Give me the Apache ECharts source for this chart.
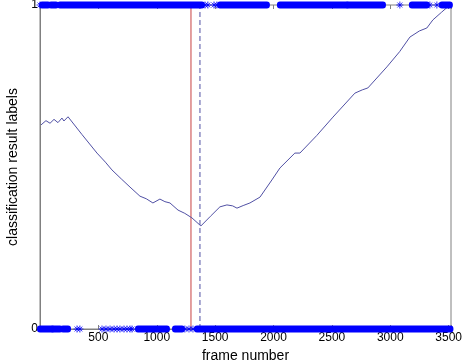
<!DOCTYPE html>
<html>
<head>
<meta charset="utf-8">
<script src="https://cdn.jsdelivr.net/npm/echarts@6/dist/echarts.min.js"></script>
<style>
html, body { margin: 0; padding: 0; background: #fff; }
#chart { width: 468px; height: 362px; }
</style>
</head>
<body>
<div id="chart"></div>
<script>
// frame number vs classifier output
const curveFrames = [9, 51, 86, 120, 154, 188, 205, 240, 360, 488, 560, 616, 700, 771, 856, 910, 967, 1027, 1070, 1113, 1182, 1240, 1301, 1378,
  1460, 1541, 1601, 1650, 1687, 1740, 1798, 1884, 1986, 2055, 2183, 2226, 2370, 2509, 2697, 2760, 2808, 2971, 3080, 3168, 3250, 3313, 3365, 3440, 3510];
const curveValues = [0.630, 0.643, 0.635, 0.647, 0.637, 0.651, 0.642, 0.655, 0.600, 0.543, 0.515, 0.491, 0.462, 0.438, 0.410, 0.402, 0.389, 0.401, 0.393, 0.389, 0.367, 0.357, 0.343, 0.318,
  0.348, 0.377, 0.383, 0.380, 0.373, 0.381, 0.389, 0.407, 0.460, 0.497, 0.543, 0.543, 0.597, 0.654, 0.728, 0.738, 0.744, 0.809, 0.856, 0.901, 0.920, 0.929, 0.954, 0.978, 1.0];

// label = 1 frames: dense runs and isolated frames
const topRuns = [[17, 68], [94, 137], [171, 214], [231, 1387], [1541, 1943], [2055, 2628], [2637, 2937], [3185, 3313], [3442, 3510]];
const topPoints = [0, 1413, 1438, 1490, 1515, 3082, 3339, 3399];
// label = 0 frames
const bottomRuns = [[0, 103], [111, 171], [197, 240], [839, 1087], [1156, 1216], [1344, 3515]];
const bottomPoints = [317, 342, 531, 565, 600, 634, 660, 685, 719, 745, 771, 788, 1241, 1276, 1310];

const redLineFrame = 1293;
const dashLineFrame = 1370;
const xTicks = [500, 1000, 1500, 2000, 2500, 3000, 3500];

const star = 'path://M0,-1L0,1M-1,0L1,0M-0.7,-0.7L0.7,0.7M-0.7,0.7L0.7,-0.7';
const blue = '#0000ff';

function runData(runs, y) {
  return runs.map(r => [r[0], r[1], y]);
}

const chart = echarts.init(document.getElementById('chart'));
chart.setOption({
  animation: false,
  grid: { left: 40, right: 17, top: 5, bottom: 33, outerBoundsMode: 'none', show: true, borderColor: '#808080', borderWidth: 1 },
  xAxis: [{
    type: 'value', min: 0, max: 3520, interval: 500,
    name: 'frame number', nameLocation: 'middle', nameGap: 12,
    nameTextStyle: { fontFamily: 'Liberation Sans', fontSize: 14, color: '#000' },
    axisLine: { show: true, lineStyle: { color: '#808080' } },
    axisTick: { inside: true, length: 4, lineStyle: { color: '#808080' } },
    axisLabel: {
      fontFamily: 'Liberation Sans', fontSize: 12, color: '#000', margin: 3,
      formatter: v => xTicks.indexOf(v) >= 0 ? String(v) : ''
    },
    splitLine: { show: false }
  }, {
    type: 'value', min: 0, max: 3520, interval: 500, position: 'top',
    axisLine: { show: false },
    axisTick: { inside: true, length: 4, lineStyle: { color: '#808080' } },
    axisLabel: { show: false },
    splitLine: { show: false }
  }],
  yAxis: {
    type: 'value', min: 0, max: 1, interval: 1,
    name: 'classification result labels', nameLocation: 'middle', nameGap: 16,
    nameTextStyle: { fontFamily: 'Liberation Sans', fontSize: 14, color: '#000' },
    axisLine: { show: true, lineStyle: { color: '#808080' } },
    axisTick: { inside: true, length: 4, lineStyle: { color: '#808080' } },
    axisLabel: { fontFamily: 'Liberation Sans', fontSize: 12, color: '#000', margin: 2 },
    splitLine: { show: false }
  },
  series: [
    {
      type: 'line', data: curveFrames.map((f, i) => [f, curveValues[i]]),
      showSymbol: false, lineStyle: { color: '#5050a4', width: 1 }, z: 3
    },
    {
      type: 'line', data: [[redLineFrame, 0], [redLineFrame, 1]],
      showSymbol: false, lineStyle: { color: '#c84040', width: 1 }, z: 2
    },
    {
      type: 'line', data: [[dashLineFrame, 0], [dashLineFrame, 1]],
      showSymbol: false, lineStyle: { color: '#5050a4', width: 1, type: [5, 3] }, z: 2
    },
    {
      type: 'custom', data: runData(topRuns, 1).concat(runData(bottomRuns, 0)),
      clip: false, z: 4,
      renderItem: (params, api) => {
        const a = api.coord([api.value(0), api.value(2)]);
        const b = api.coord([api.value(1), api.value(2)]);
        return {
          type: 'rect',
          shape: { x: a[0] - 3, y: a[1] - 3.5, width: b[0] - a[0] + 6, height: 7, r: 3 },
          style: { fill: blue }
        };
      }
    },
    {
      type: 'scatter', clip: false, z: 4,
      data: topPoints.map(f => [f, 1]).concat(bottomPoints.map(f => [f, 0])),
      symbol: star, symbolSize: 7,
      itemStyle: { color: 'rgba(0,0,0,0)', borderColor: blue, borderWidth: 1 }
    }
  ]
});
</script>
</body>
</html>
